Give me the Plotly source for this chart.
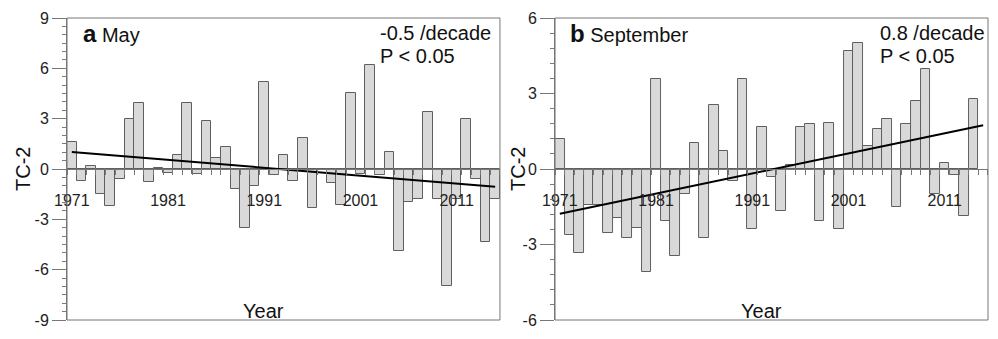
import plotly.graph_objects as go

years = list(range(1971, 2016))

may_values = [1.6, -0.73, 0.2, -1.49, -2.22, -0.57, 2.97, 3.95, -0.79, 0.08,
              -0.25, 0.84, 3.95, -0.3, 2.87, 0.63, 1.34, -1.17, -3.54, -1.02,
              5.19, -0.33, 0.84, -0.71, 1.84, -2.30, -0.05, -0.84, -2.16, 4.52,
              -0.32, 6.17, -0.37, 1.03, -4.88, -1.97, -1.77, 3.41, -1.77, -6.98,
              -1.77, 2.98, -0.57, -4.38, -1.77]

sep_values = [1.20, -2.63, -3.35, -1.45, -1.42, -2.56, -1.96, -2.76, -2.35, -4.09,
              3.57, -2.07, -3.45, -0.98, 1.02, -2.74, 2.56, 0.70, -0.46, 3.57,
              -2.39, 1.68, -0.31, -1.68, 0.15, 1.68, 1.77, -2.07, 1.82, -2.37,
              4.68, 4.99, 0.90, 1.59, 1.98, -1.52, 1.79, 2.70, 3.99, -1.00,
              0.22, -0.24, -1.86, 2.80, None]

trend_years = [1971, 2015]
may_trend = [1.02, -1.06]
sep_trend = [-1.78, 1.74]

label_years = [1971, 1981, 1991, 2001, 2011]
boundaries = [y + 0.5 for y in range(1970, 2016)]

may_ticks = [-9, -6, -3, 0, 3, 6, 9]
may_ticktext = ["-9", "-6", "-3", "0", "3", "6", "9"]
sep_ticks = [-6, -3, 0, 3, 6]
sep_ticktext = ["-6", "-3", "0", "3", "6"]

FONT = "Arial, Liberation Sans, sans-serif"
GRAY = "#777777"
BAR_FILL = "#d9d9d9"
BAR_LINE = "#5f5f5f"

fig = go.Figure()
fig.add_trace(go.Bar(x=years, y=may_values, xaxis="x", yaxis="y", width=1,
                     marker=dict(color=BAR_FILL, line=dict(color=BAR_LINE, width=1)),
                     showlegend=False))
fig.add_trace(go.Scatter(x=trend_years, y=may_trend, xaxis="x", yaxis="y", mode="lines",
                         line=dict(color="black", width=2), showlegend=False))
fig.add_trace(go.Bar(x=years, y=sep_values, xaxis="x2", yaxis="y2", width=1,
                     marker=dict(color=BAR_FILL, line=dict(color=BAR_LINE, width=1)),
                     showlegend=False))
fig.add_trace(go.Scatter(x=trend_years, y=sep_trend, xaxis="x2", yaxis="y2", mode="lines",
                         line=dict(color="black", width=2), showlegend=False))


def xaxis_cfg(domain):
    return dict(domain=domain, range=[1970.5, 2015.5], anchor="free", position=0.5,
                showline=True, linecolor=GRAY, linewidth=1,
                tickmode="array", tickvals=label_years, ticks="outside", ticklen=17,
                tickcolor="rgba(0,0,0,0)", tickfont=dict(size=16, color="#222"),
                minor=dict(tickmode="array", tickvals=boundaries, ticks="outside",
                           ticklen=5, tickcolor=GRAY, tickwidth=1),
                showgrid=False, zeroline=False, fixedrange=True)


def yaxis_cfg(rng, ticks, ticktext, minor_dt, xname):
    return dict(domain=[0, 1], range=rng, anchor=xname, tickmode="array", tickvals=ticks,
                ticktext=ticktext,
                ticks="outside", ticklen=14, tickcolor=GRAY, tickwidth=1,
                showline=True, linecolor=GRAY, linewidth=1,
                minor=dict(dtick=minor_dt, tick0=0, ticks="outside", ticklen=4,
                           tickcolor=GRAY, tickwidth=1),
                tickfont=dict(size=16, color="#222"),
                showgrid=False, zeroline=False, fixedrange=True)


fig.update_layout(
    width=998, height=339,
    margin=dict(l=67, r=10, t=16, b=10),
    paper_bgcolor="white", plot_bgcolor="white",
    font=dict(family=FONT, color="#111"),
    bargap=0,
    xaxis=xaxis_cfg([0, 0.4701]), xaxis2=xaxis_cfg([0.5299, 1.0]),
    yaxis=yaxis_cfg([-9, 9], may_ticks, may_ticktext, 0.5, "x"),
    yaxis2=yaxis_cfg([-6, 6], sep_ticks, sep_ticktext, 0.6, "x2"),
    shapes=[
        dict(type="rect", xref="x domain", yref="y domain", x0=0, x1=1, y0=0, y1=1,
             line=dict(color=GRAY, width=1)),
        dict(type="rect", xref="x2 domain", yref="y2 domain", x0=0, x1=1, y0=0, y1=1,
             line=dict(color=GRAY, width=1)),
    ],
)

ann = []
ann.append(dict(xref="x domain", yref="y domain", x=0.032, y=0.949, xanchor="left", yanchor="middle",
                text="<b><span style='font-size:24px'>a</span></b> May", showarrow=False,
                font=dict(size=20)))
ann.append(dict(xref="x2 domain", yref="y2 domain", x=0.029, y=0.949, xanchor="left", yanchor="middle",
                text="<b><span style='font-size:24px'>b</span></b> September", showarrow=False,
                font=dict(size=20)))
ann.append(dict(xref="x domain", yref="y domain", x=0.718, y=0.949, xanchor="left", yanchor="middle",
                text="-0.5 /decade", showarrow=False, font=dict(size=20)))
ann.append(dict(xref="x domain", yref="y domain", x=0.718, y=0.875, xanchor="left", yanchor="middle",
                text="P &lt; 0.05", showarrow=False, font=dict(size=20)))
ann.append(dict(xref="x2 domain", yref="y2 domain", x=0.745, y=0.949, xanchor="left", yanchor="middle",
                text="0.8 /decade", showarrow=False, font=dict(size=20)))
ann.append(dict(xref="x2 domain", yref="y2 domain", x=0.745, y=0.875, xanchor="left", yanchor="middle",
                text="P &lt; 0.05", showarrow=False, font=dict(size=20)))
ann.append(dict(xref="x domain", yref="y domain", x=0.455, y=0.029, xanchor="center", yanchor="middle",
                text="Year", showarrow=False, font=dict(size=20)))
ann.append(dict(xref="x2 domain", yref="y2 domain", x=0.476, y=0.029, xanchor="center", yanchor="middle",
                text="Year", showarrow=False, font=dict(size=20)))
ann.append(dict(xref="paper", yref="paper", x=-0.0478, y=0.5, xanchor="center", yanchor="middle",
                text="TC-2", textangle=-90, showarrow=False, font=dict(size=20)))
ann.append(dict(xref="paper", yref="paper", x=0.4897, y=0.5, xanchor="center", yanchor="middle",
                text="TC-2", textangle=-90, showarrow=False, font=dict(size=20)))
fig.update_layout(annotations=ann)

fig.write_html("out.html")
